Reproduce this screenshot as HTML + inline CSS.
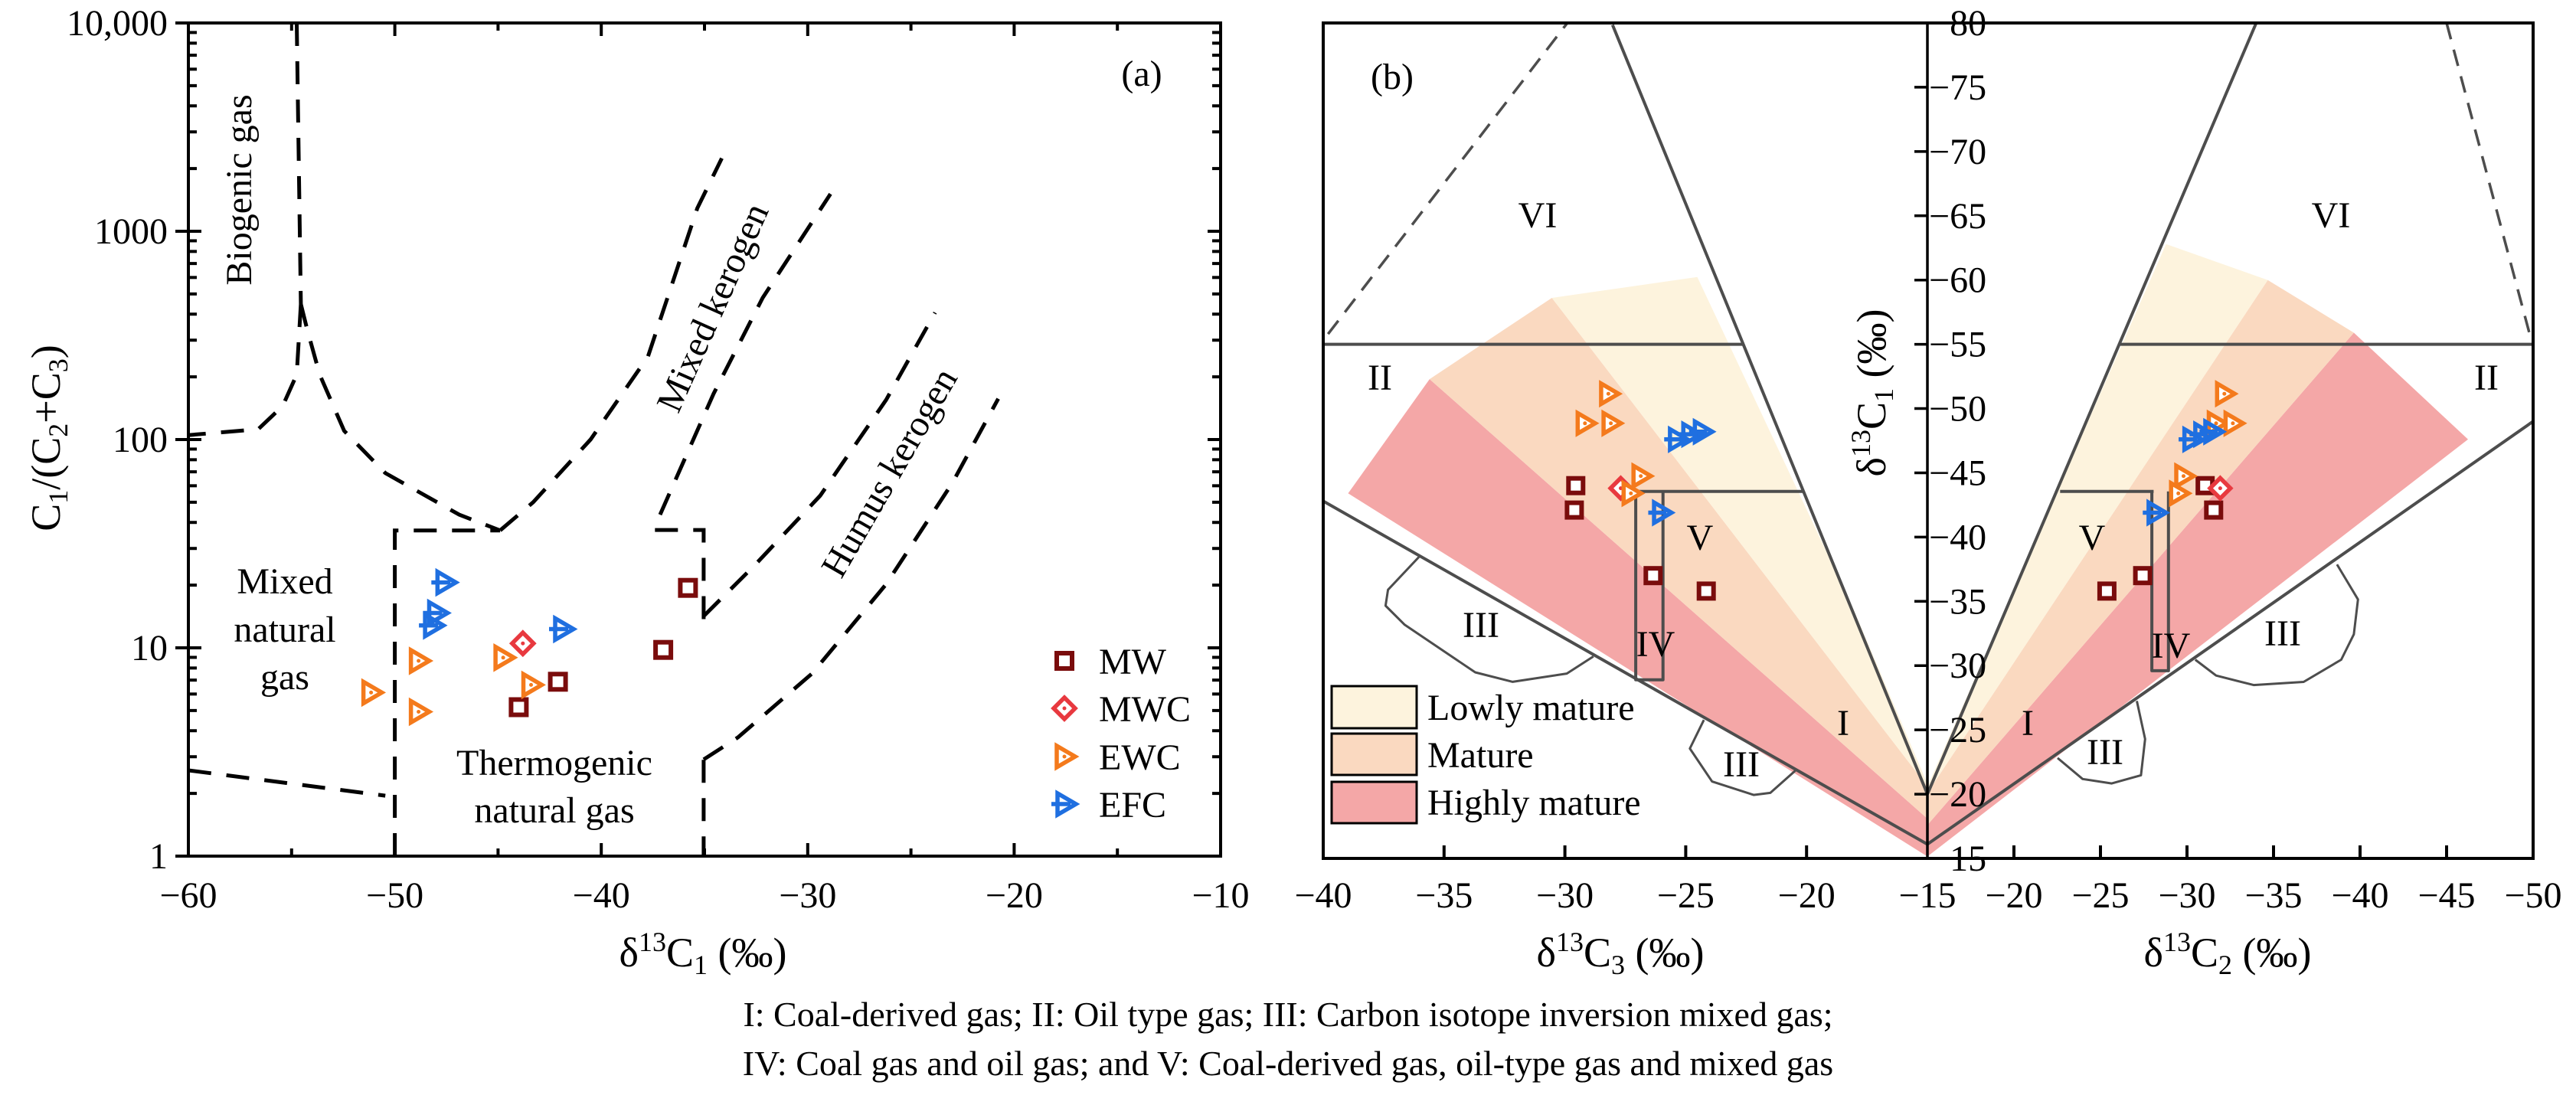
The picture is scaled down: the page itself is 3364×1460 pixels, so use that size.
<!DOCTYPE html>
<html><head><meta charset="utf-8"><title>Gas origin diagrams</title>
<style>
html,body{margin:0;padding:0;background:#fff;}
svg, svg text, svg tspan{font-family:"Liberation Serif","DejaVu Serif",serif !important;}
</style></head>
<body>
<svg id="chart" xmlns="http://www.w3.org/2000/svg" width="3364" height="1455" viewBox="0 0 3364 1455" font-family="Liberation Serif, DejaVu Serif, serif">
<rect x="0" y="0" width="3364" height="1455" fill="#fff"/>
<g id="layerA" font-family="Liberation Serif, serif"></g>
<g id="layerB" font-family="Liberation Serif, serif"></g>
<g id="textLayer" font-size="48" fill="#000" font-family="Liberation Serif, serif">
  <text x="1491" y="112" text-anchor="middle">(a)</text>
  <text transform="translate(328,248) rotate(-90)" text-anchor="middle">Biogenic gas</text>
  <text x="372" y="775" text-anchor="middle">Mixed</text>
  <text x="372" y="838" text-anchor="middle">natural</text>
  <text x="372" y="900" text-anchor="middle">gas</text>
  <text x="724" y="1012" text-anchor="middle">Thermogenic</text>
  <text x="724" y="1074" text-anchor="middle">natural gas</text>
  <text transform="translate(945,408) rotate(-66)" text-anchor="middle">Mixed kerogen</text>
  <text transform="translate(1175,625) rotate(-60)" text-anchor="middle">Humus kerogen</text>
  <text transform="translate(78,572) rotate(-90)" text-anchor="middle" font-size="54">C<tspan font-size="36" dy="10">1</tspan><tspan dy="-10">/(C</tspan><tspan font-size="36" dy="10">2</tspan><tspan dy="-10">+C</tspan><tspan font-size="36" dy="10">3</tspan><tspan dy="-10">)</tspan></text>
  <text x="918" y="1262" text-anchor="middle" font-size="54">δ<tspan font-size="36" dy="-20">13</tspan><tspan dy="20">C</tspan><tspan font-size="36" dy="10">1</tspan><tspan dy="-10"> (‰)</tspan></text>
  <text x="1435" y="880">MW</text>
  <text x="1435" y="942">MWC</text>
  <text x="1435" y="1005">EWC</text>
  <text x="1435" y="1067">EFC</text>
  <text x="1818" y="116" text-anchor="middle">(b)</text>
  <text x="2008" y="297" text-anchor="middle">VI</text>
  <text x="3044" y="297" text-anchor="middle">VI</text>
  <text x="1802" y="509" text-anchor="middle">II</text>
  <text x="3247" y="509" text-anchor="middle">II</text>
  <text x="2220" y="718" text-anchor="middle">V</text>
  <text x="2732" y="718" text-anchor="middle">V</text>
  <text x="2162" y="857" text-anchor="middle">IV</text>
  <text x="2835" y="859" text-anchor="middle">IV</text>
  <text x="1934" y="832" text-anchor="middle">III</text>
  <text x="2274" y="1014" text-anchor="middle">III</text>
  <text x="2981" y="843" text-anchor="middle">III</text>
  <text x="2749" y="998" text-anchor="middle">III</text>
  <text x="2407" y="960" text-anchor="middle">I</text>
  <text x="2648" y="960" text-anchor="middle">I</text>
  <text transform="translate(2462,513) rotate(-90)" text-anchor="middle" font-size="54">δ<tspan font-size="36" dy="-20">13</tspan><tspan dy="20">C</tspan><tspan font-size="36" dy="10">1</tspan><tspan dy="-10"> (‰)</tspan></text>
  <text x="2116" y="1262" text-anchor="middle" font-size="54">δ<tspan font-size="36" dy="-20">13</tspan><tspan dy="20">C</tspan><tspan font-size="36" dy="10">3</tspan><tspan dy="-10"> (‰)</tspan></text>
  <text x="2909" y="1262" text-anchor="middle" font-size="54">δ<tspan font-size="36" dy="-20">13</tspan><tspan dy="20">C</tspan><tspan font-size="36" dy="10">2</tspan><tspan dy="-10"> (‰)</tspan></text>
  <rect x="1739" y="896" width="111" height="55" fill="#fdf3dd" stroke="#000" stroke-width="3"/>
  <rect x="1739" y="958" width="111" height="54" fill="#fad9c0" stroke="#000" stroke-width="3"/>
  <rect x="1739" y="1021" width="111" height="54" fill="#f4a7a7" stroke="#000" stroke-width="3"/>
  <text x="1864" y="940">Lowly mature</text>
  <text x="1864" y="1002">Mature</text>
  <text x="1864" y="1064">Highly mature</text>
  <text x="1682" y="1340" text-anchor="middle" font-size="46">I: Coal-derived gas; II: Oil type gas; III: Carbon isotope inversion mixed gas;</text>
  <text x="1682" y="1404" text-anchor="middle" font-size="46">IV: Coal gas and oil gas; and V: Coal-derived gas, oil-type gas and mixed gas</text>
</g>
</svg>
<script>
const mwC1 = [-44.0, -42.1, -37.0, -35.8];
const mwRatio = [5.19, 6.87, 9.77, 19.4];
const mwC2 = [-31.05, -31.54, -27.44, -25.37];
const mwC3 = [-29.55, -29.61, -26.35, -24.15];
const mwcC1 = [-43.8];
const mwcRatio = [10.5];
const mwcC2 = [-31.92];
const mwcC3 = [-27.69];
const ewcC1 = [-51.15, -48.85, -48.85, -44.75, -43.4];
const ewcRatio = [6.1, 8.66, 4.93, 8.97, 6.64];
const ewcC2 = [-32.16, -31.68, -32.65, -29.8, -29.5];
const ewcC3 = [-28.2, -29.17, -28.1, -26.86, -27.27];
const efcC1 = [-47.6, -48.0, -48.2, -41.9];
const efcRatio = [20.6, 14.7, 12.8, 12.3];
const efcC2 = [-30.23, -30.86, -31.44, -28.16];
const efcC3 = [-25.38, -24.83, -24.35, -26.04];
const aXTicks = [-60, -50, -40, -30, -20, -10];
const aXTickLabels = ["−60", "−50", "−40", "−30", "−20", "−10"];
const aYTicks = [1, 10, 100, 1000, 10000];
const aYTickLabels = ["1", "10", "100", "1000", "10,000"];
const bC3Ticks = [-40, -35, -30, -25, -20, -15];
const bC3TickLabels = ["−40", "−35", "−30", "−25", "−20", "−15"];
const bC2Ticks = [-20, -25, -30, -35, -40, -45, -50];
const bC2TickLabels = ["−20", "−25", "−30", "−35", "−40", "−45", "−50"];
const bC1Ticks = [-80, -75, -70, -65, -60, -55, -50, -45, -40, -35, -30, -25, -20, -15];
const bC1TickLabels = ["−80", "−75", "−70", "−65", "−60", "−55", "−50", "−45", "−40", "−35", "−30", "−25", "−20", "−15"];

const biogenicVertical = [[-54.75, 10000], [-54.55, 447]];
const biogenicLeft = [[-54.55, 447], [-54.75, 205], [-55.43, 145], [-56.62, 112], [-60, 105]];
const biogenicRight = [[-54.55, 447], [-54.24, 336], [-53.64, 205], [-52.45, 110], [-50.46, 69], [-46.88, 43.6], [-44.9, 36.6]];
const mixedKerogenLeft = [[-44.9, 36.6], [-43.3, 50], [-40.52, 100], [-37.74, 250], [-35.35, 1290], [-34.16, 2240]];
const mixedKerogenRight = [[-37.15, 43.6], [-34.56, 166], [-32.18, 479], [-28.9, 1510]];
const humusUpper = [[-35.04, 14.2], [-32.57, 24.9], [-29.4, 53.7], [-26.2, 155], [-23.83, 407]];
const humusLower = [[-35.04, 2.91], [-33.37, 3.72], [-29.79, 7.53], [-26.2, 20.2], [-23.0, 61.7], [-20.77, 157]];
const thermoBoxLeft = [[-50, 1], [-50, 36.6], [-44.9, 36.6]];
const thermoBoxRightTop = [[-37.4, 36.8], [-35.04, 36.8], [-35.04, 13.7]];
const thermoBoxRightBottom = [[-35.04, 2.9], [-35.04, 1]];
const mixedGasBottom = [[-60, 2.58], [-50.46, 1.95]];

const leftLowly = [[-30.54, -58.61], [-24.52, -60.24], [-18.06, -34.4], [-15, -20.8], [-15, -20.6]];
const leftMature = [[-35.6, -52.29], [-30.54, -58.61], [-15, -20.6], [-15, -18.1]];
const leftHighly = [[-38.97, -43.4], [-35.6, -52.29], [-15, -18.1], [-15, -15.15]];
const rightLowly = [[-15, -20.6], [-28.79, -62.8], [-34.67, -60.0], [-15, -20.1]];
const rightMature = [[-34.67, -60.0], [-39.64, -55.9], [-15, -17.6], [-15, -20.1]];
const rightHighly = [[-39.64, -55.9], [-46.24, -47.6], [-15, -15.15], [-15, -17.6]];
const leftLines = [
  [[-28.03, -79.85], [-15, -20]],
  [[-40, -55], [-22.6, -55]],
  [[-40, -42.8], [-15, -16.1]],
  [[-27.07, -43.55], [-20.1, -43.55]],
  [[-27.07, -43.55], [-27.07, -28.9], [-25.94, -28.9], [-25.94, -43.55]]
];
const rightLines = [
  [[-34.0, -80], [-15, -20]],
  [[-26.1, -55], [-50, -55]],
  [[-15, -16.1], [-50, -49]],
  [[-22.67, -43.55], [-28.07, -43.55]],
  [[-27.97, -43.55], [-27.97, -29.6], [-28.93, -29.6], [-28.93, -43.55]]
];
const leftDashed = [[-39.8, -55.8], [-29.9, -80]];
const rightDashed = [[-45.0, -80], [-49.9, -55.3]];
const leftBlobs = [
  [[-36.01, -38.51], [-37.32, -35.9], [-37.42, -34.66], [-36.63, -33.18], [-33.71, -29.48], [-32.16, -28.74], [-29.92, -29.38], [-28.82, -30.71]],
  [[-24.25, -25.77], [-24.83, -23.55], [-23.91, -20.98], [-22.19, -19.94], [-21.5, -20.1], [-20.47, -21.82]]
];
const rightBlobs = [
  [[-38.67, -37.87], [-39.88, -35.15], [-39.64, -32.44], [-38.91, -30.46], [-36.74, -28.73], [-33.85, -28.49], [-31.68, -29.23], [-30.48, -30.46]],
  [[-27.1, -27.25], [-27.58, -24.29], [-27.34, -21.47], [-25.65, -20.83], [-23.97, -21.18], [-22.52, -22.81]]
];

const A = {l: 246, r: 1594, t: 30, b: 1118};
function xA(v) { return A.l + (v + 60) / 50 * (A.r - A.l); }
function yA(v) { return A.b - Math.log10(v) / 4 * (A.b - A.t); }
const B = {l: 1728, r: 3308, t: 30, b: 1121, c: 2517};
function xL(v) { return B.c - (-15 - v) / 25 * (B.c - B.l); }
function xR(v) { return B.c + (-15 - v) / 35 * (B.r - B.c); }
function yB(v) { return B.t + (v + 80) / 65 * (B.b - B.t); }

const NS = 'http://www.w3.org/2000/svg';
const layerA = document.getElementById('layerA');
const layerB = document.getElementById('layerB');
const SERIF = '"Liberation Serif", "DejaVu Serif", serif';
function mk(tag, attrs, parent) {
  const e = document.createElementNS(NS, tag);
  for (const k in attrs) e.setAttribute(k, attrs[k]);
  if (tag === 'text') e.style.fontFamily = SERIF;
  parent.appendChild(e);
  return e;
}
document.querySelectorAll('text').forEach(function (t) { t.style.fontFamily = SERIF; });
function ptsA(arr) { return arr.map(p => xA(p[0]).toFixed(1) + ',' + yA(p[1]).toFixed(1)).join(' '); }
function ptsL(arr) { return arr.map(p => xL(p[0]).toFixed(1) + ',' + yB(p[1]).toFixed(1)).join(' '); }
function ptsR(arr) { return arr.map(p => xR(p[0]).toFixed(1) + ',' + yB(p[1]).toFixed(1)).join(' '); }

const COL = {mw: '#7a0c0c', mwc: '#e8393f', ewc: '#f47a1c', efc: '#1f6fe0'};
function marker(kind, cx, cy, parent, s) {
  const g = mk('g', {transform: 'translate(' + cx.toFixed(1) + ',' + cy.toFixed(1) + ')'}, parent);
  if (kind === 'mw') {
    mk('rect', {x: -10 * s, y: -10 * s, width: 20 * s, height: 20 * s, fill: '#fff', stroke: COL.mw, 'stroke-width': 6}, g);
  } else if (kind === 'mwc') {
    mk('polygon', {points: `0,${-14 * s} ${14 * s},0 0,${14 * s} ${-14 * s},0`, fill: '#fff', stroke: COL.mwc, 'stroke-width': 5.5}, g);
    mk('circle', {cx: 0, cy: 0, r: 2.5, fill: COL.mwc}, g);
  } else if (kind === 'ewc') {
    mk('polygon', {points: `${-10 * s},${-14 * s} ${14 * s},0 ${-10 * s},${14 * s}`, fill: '#fff', stroke: COL.ewc, 'stroke-width': 5.5}, g);
    mk('circle', {cx: 0, cy: 0, r: 2.5, fill: COL.ewc}, g);
  } else {
    mk('polygon', {points: `${-9 * s},${-14 * s} ${15 * s},0 ${-9 * s},${14 * s}`, fill: 'none', stroke: COL.efc, 'stroke-width': 5.5}, g);
    mk('line', {x1: -17 * s, y1: 0, x2: 8 * s, y2: 0, stroke: COL.efc, 'stroke-width': 5.5}, g);
  }
  return g;
}

const dashA = {fill: 'none', stroke: '#000', 'stroke-width': 5, 'stroke-dasharray': '30,20'};
const aLines = [
  ['biogenic-boundary-vertical', biogenicVertical], ['biogenic-boundary-left', biogenicLeft], ['biogenic-boundary-right', biogenicRight],
  ['mixed-kerogen-boundary-left', mixedKerogenLeft], ['mixed-kerogen-boundary-right', mixedKerogenRight],
  ['humus-kerogen-boundary-upper', humusUpper], ['humus-kerogen-boundary-lower', humusLower],
  ['thermogenic-box-left', thermoBoxLeft], ['thermogenic-box-right-top', thermoBoxRightTop], ['thermogenic-box-right-bottom', thermoBoxRightBottom],
  ['mixed-gas-bottom-boundary', mixedGasBottom]
];
aLines.forEach(function (item) {
  const pl = mk('polyline', Object.assign({points: ptsA(item[1])}, dashA), layerA);
  
  
});

const frameA = mk('rect', {x: A.l, y: A.t, width: A.r - A.l, height: A.b - A.t, fill: 'none', stroke: '#000', 'stroke-width': 4}, layerA);



aXTicks.forEach(function (v, i) {
  const x = xA(v);
  const t1 = mk('line', {x1: x, y1: A.b, x2: x, y2: A.b - 17, stroke: '#000', 'stroke-width': 4}, layerA);
  
  
  const t2 = mk('line', {x1: x, y1: A.t, x2: x, y2: A.t + 17, stroke: '#000', 'stroke-width': 4}, layerA);
  
  
  if (i < aXTicks.length - 1) {
    const xm = xA(v + 5);
    const m1 = mk('line', {x1: xm, y1: A.b, x2: xm, y2: A.b - 10, stroke: '#000', 'stroke-width': 4}, layerA);
    
    
    const m2 = mk('line', {x1: xm, y1: A.t, x2: xm, y2: A.t + 10, stroke: '#000', 'stroke-width': 4}, layerA);
    
    
  }
  const lb = mk('text', {x: x, y: 1185, 'text-anchor': 'middle', 'font-size': 48}, layerA);
  lb.textContent = aXTickLabels[i];
  
  
});
aYTicks.forEach(function (v, i) {
  const y = yA(v);
  const t1 = mk('line', {x1: A.l - 17, y1: y, x2: A.l + 17, y2: y, stroke: '#000', 'stroke-width': 4}, layerA);
  
  
  const t2 = mk('line', {x1: A.r - 17, y1: y, x2: A.r, y2: y, stroke: '#000', 'stroke-width': 4}, layerA);
  
  
  if (i < aYTicks.length - 1) {
    for (let k = 2; k <= 9; k++) {
      const ym = yA(v * k);
      const m1 = mk('line', {x1: A.l, y1: ym, x2: A.l + 11, y2: ym, stroke: '#000', 'stroke-width': 4}, layerA);
      
      
      const m2 = mk('line', {x1: A.r - 11, y1: ym, x2: A.r, y2: ym, stroke: '#000', 'stroke-width': 4}, layerA);
      
      
    }
  }
  const lb = mk('text', {x: 219, y: y + 16, 'text-anchor': 'end', 'font-size': 48}, layerA);
  lb.textContent = aYTickLabels[i];
  
  
});

function plotA(kind, xs, ys) {
  xs.forEach(function (v, i) {
    const m = marker(kind, xA(v), yA(ys[i]), layerA, 1);
    
    
  });
}
plotA('mw', mwC1, mwRatio);
plotA('mwc', mwcC1, mwcRatio);
plotA('ewc', ewcC1, ewcRatio);
plotA('efc', efcC1, efcRatio);

const legKinds = ['mw', 'mwc', 'ewc', 'efc'];
const legY = [863, 925, 988, 1050];
legKinds.forEach(function (k, i) {
  const m = marker(k, 1390, legY[i], layerA, 1);
  
  
});

const fills = [
  ['left-highly-mature-zone', leftHighly, '#f4a7a7', ptsL], ['left-mature-zone', leftMature, '#fad9c0', ptsL], ['left-lowly-mature-zone', leftLowly, '#fdf3dd', ptsL],
  ['right-highly-mature-zone', rightHighly, '#f4a7a7', ptsR], ['right-mature-zone', rightMature, '#fad9c0', ptsR], ['right-lowly-mature-zone', rightLowly, '#fdf3dd', ptsR]
];
fills.forEach(function (f) {
  const p = mk('polygon', {points: f[3](f[1]), fill: f[2], stroke: 'none'}, layerB);
  
  
});
const grayStyle = {fill: 'none', stroke: '#4d4d4d', 'stroke-width': 4, 'stroke-linejoin': 'round'};
leftLines.forEach(function (ln) {
  const p = mk('polyline', Object.assign({points: ptsL(ln)}, grayStyle), layerB);
  
  
});
rightLines.forEach(function (ln) {
  const p = mk('polyline', Object.assign({points: ptsR(ln)}, grayStyle), layerB);
  
  
});
const dl = mk('polyline', {points: ptsL(leftDashed), fill: 'none', stroke: '#4d4d4d', 'stroke-width': 3.5, 'stroke-dasharray': '22,14'}, layerB);


const dr = mk('polyline', {points: ptsR(rightDashed), fill: 'none', stroke: '#4d4d4d', 'stroke-width': 3.5, 'stroke-dasharray': '22,14'}, layerB);


leftBlobs.forEach(function (bl) {
  const p = mk('polyline', {points: ptsL(bl), fill: 'none', stroke: '#4d4d4d', 'stroke-width': 3, 'stroke-linejoin': 'round'}, layerB);
  
  
});
rightBlobs.forEach(function (bl) {
  const p = mk('polyline', {points: ptsR(bl), fill: 'none', stroke: '#4d4d4d', 'stroke-width': 3, 'stroke-linejoin': 'round'}, layerB);
  
  
});

const frameB = mk('rect', {x: B.l, y: B.t, width: B.r - B.l, height: B.b - B.t, fill: 'none', stroke: '#000', 'stroke-width': 4}, layerB);


const cax = mk('line', {x1: B.c, y1: B.t, x2: B.c, y2: B.b, stroke: '#000', 'stroke-width': 3.5}, layerB);



bC3Ticks.forEach(function (v, i) {
  const x = xL(v);
  if (i > 0 && i < bC3Ticks.length - 1) {
    const t = mk('line', {x1: x, y1: B.b, x2: x, y2: B.b - 17, stroke: '#000', 'stroke-width': 4}, layerB);
    
    
  }
  const lb = mk('text', {x: x, y: 1185, 'text-anchor': 'middle', 'font-size': 48}, layerB);
  lb.textContent = bC3TickLabels[i];
  
  
});
bC2Ticks.forEach(function (v, i) {
  const x = xR(v);
  if (i < bC2Ticks.length - 1) {
    const t = mk('line', {x1: x, y1: B.b, x2: x, y2: B.b - 17, stroke: '#000', 'stroke-width': 4}, layerB);
    
    
  }
  const lb = mk('text', {x: x, y: 1185, 'text-anchor': 'middle', 'font-size': 48}, layerB);
  lb.textContent = bC2TickLabels[i];
  
  
});
bC1Ticks.forEach(function (v, i) {
  const y = yB(v);
  const t = mk('line', {x1: B.c - 17, y1: y, x2: B.c, y2: y, stroke: '#000', 'stroke-width': 3.5}, layerB);
  
  
  const lb = mk('text', {x: B.c + 2, y: y + 16, 'font-size': 48}, layerB);
  lb.textContent = bC1TickLabels[i];
  
  
});

function plotB(kind, c1, c2, c3) {
  c1.forEach(function (v, i) {
    const ml = marker(kind, xL(c3[i]), yB(v), layerB, 0.95);
    
    
    const mr = marker(kind, xR(c2[i]), yB(v), layerB, 0.95);
    
    
  });
}
plotB('mw', mwC1, mwC2, mwC3);
plotB('mwc', mwcC1, mwcC2, mwcC3);
plotB('ewc', ewcC1, ewcC2, ewcC3);
plotB('efc', efcC1, efcC2, efcC3);
</script>
</body></html>
